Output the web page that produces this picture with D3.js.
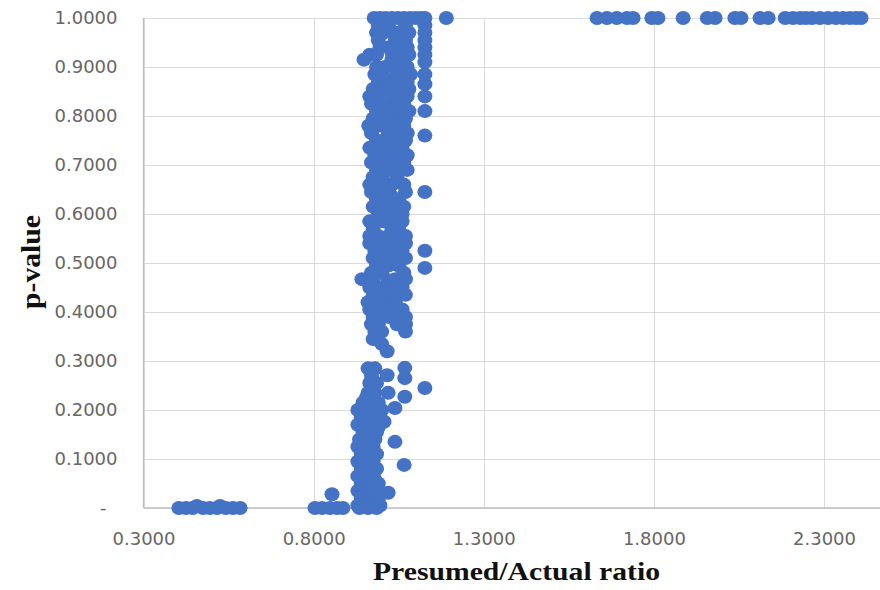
<!DOCTYPE html>
<html>
<head>
<meta charset="utf-8">
<script src="https://cdn.jsdelivr.net/npm/d3@7"></script>
<style>
  html, body { margin: 0; padding: 0; background: #fff; }
  svg { display: block; }
</style>
</head>
<body>
<svg id="chart" width="880" height="590"></svg>
<script>
// ---------- DATA ----------
const xTicks = [0.3, 0.8, 1.3, 1.8, 2.3];
const yTicks = [0, 0.1, 0.2, 0.3, 0.4, 0.5, 0.6, 0.7, 0.8, 0.9, 1.0];
const xTitle = "Presumed/Actual ratio";
const yTitle = "p-value";

// Low ratios, p ~ 0
const lowGroup = [
  [0.404, 0], [0.425, 0], [0.445, 0], [0.457, 0.004], [0.475, 0], [0.495, 0],
  [0.516, 0], [0.525, 0.004], [0.542, 0], [0.563, 0], [0.584, 0]
];
// Ratios 0.80 - 0.89, p ~ 0
const nearGroup = [
  [0.804, 0], [0.825, 0], [0.848, 0], [0.854, 0.028], [0.869, 0], [0.886, 0]
];
// High ratios, p = 1
const highRatios = [
  1.633, 1.662, 1.691, 1.721, 1.739, 1.794, 1.812, 1.886, 1.957, 1.980, 2.038, 2.056,
  2.112, 2.136, 2.186, 2.209, 2.230, 2.247, 2.265, 2.288, 2.312, 2.335, 2.356, 2.376, 2.394, 2.409
];
// Main cluster around ratio ~1
const mainCluster = [
  [0.978,1],[0.995,1],[1.012,1],[1.03,1],[1.048,1],[1.066,1],[1.084,1],[1.10,1],[1.115,1],[1.127,1],[1.19,1],
  [0.99,0.985],[1.02,0.985],[1.07,0.985],[1.127,0.985],
  [0.985,0.97],[1.005,0.97],[1.045,0.97],[1.065,0.97],[1.08,0.97],[1.127,0.97],
  [0.99,0.955],[1.04,0.955],[1.07,0.955],[1.127,0.955],
  [0.995,0.94],[1.02,0.94],[1.05,0.945],[1.075,0.94],[1.127,0.94],
  [0.965,0.925],[0.985,0.925],[1.03,0.93],[1.06,0.925],[1.08,0.925],[1.127,0.925],
  [0.948,0.915],[1.03,0.915],[1.127,0.91],
  [0.985,0.90],[1.01,0.90],[1.05,0.90],[1.075,0.90],
  [0.98,0.885],[1.0,0.885],[1.045,0.885],[1.065,0.885],[1.085,0.885],[1.127,0.885],
  [0.99,0.87],[1.02,0.875],[1.04,0.87],[1.075,0.87],[1.127,0.865],
  [0.975,0.855],[1.005,0.855],[1.015,0.855],[1.06,0.855],[1.08,0.855],
  [0.965,0.84],[0.99,0.84],[1.03,0.845],[1.045,0.84],[1.075,0.84],[1.127,0.84],
  [0.97,0.825],[1.0,0.825],[1.03,0.825],[1.065,0.825],
  [0.985,0.81],[1.02,0.81],[1.04,0.805],[1.05,0.81],[1.08,0.81],[1.127,0.81],
  [0.975,0.795],[1.005,0.795],[1.05,0.79],[1.07,0.795],
  [0.962,0.78],[0.99,0.78],[1.025,0.785],[1.04,0.78],[1.065,0.78],
  [0.97,0.765],[1.02,0.765],[1.055,0.765],[1.075,0.765],[1.127,0.76],
  [0.985,0.75],[1.005,0.75],[1.03,0.745],[1.07,0.75],
  [0.965,0.735],[1.0,0.735],[1.04,0.735],[1.06,0.735],
  [0.98,0.72],[1.015,0.72],[1.05,0.72],[1.075,0.72],
  [0.97,0.705],[1.0,0.705],[1.035,0.705],[1.065,0.705],
  [0.985,0.69],[1.02,0.69],[1.03,0.69],[1.055,0.69],[1.075,0.69],
  [0.975,0.675],[1.0,0.675],[1.045,0.675],
  [0.965,0.66],[0.99,0.66],[1.03,0.66],[1.065,0.66],
  [0.97,0.645],[1.01,0.645],[1.025,0.64],[1.07,0.645],[1.127,0.645],
  [0.985,0.63],[1.0,0.63],[1.05,0.63],
  [0.975,0.615],[1.02,0.615],[1.04,0.615],[1.065,0.615],
  [0.99,0.60],[1.01,0.605],[1.035,0.60],[1.06,0.60],
  [0.965,0.585],[1.005,0.585],[1.045,0.585],[1.06,0.585],
  [0.975,0.57],[1.03,0.57],[1.05,0.57],
  [0.965,0.555],[0.99,0.555],[1.02,0.555],[1.04,0.55],[1.07,0.555],
  [0.965,0.54],[1.0,0.54],[1.04,0.54],[1.07,0.54],
  [0.98,0.525],[1.01,0.525],[1.05,0.52],[1.06,0.525],[1.127,0.525],
  [0.975,0.51],[0.99,0.51],[1.03,0.51],[1.07,0.51],
  [0.985,0.495],[1.02,0.495],[1.04,0.5],[1.05,0.495],[1.127,0.49],
  [0.97,0.48],[1.0,0.48],[1.065,0.48],
  [0.942,0.467],[0.975,0.467],[1.02,0.465],[1.04,0.467],[1.07,0.467],
  [0.965,0.45],[0.995,0.45],[1.03,0.45],[1.045,0.45],[1.06,0.45],
  [0.975,0.435],[1.01,0.435],[1.05,0.435],[1.07,0.435],
  [0.96,0.42],[0.99,0.42],[1.025,0.415],[1.04,0.42],
  [0.965,0.405],[1.005,0.405],[1.06,0.405],
  [0.975,0.39],[0.995,0.395],[1.02,0.39],[1.04,0.395],[1.07,0.39],
  [0.97,0.375],[0.99,0.375],[1.045,0.375],[1.07,0.375],
  [0.98,0.36],[1.0,0.36],[1.07,0.36],
  [0.975,0.345],[1.0,0.335],[1.016,0.32],
  [0.96,0.285],[0.98,0.285],[1.068,0.286],
  [0.97,0.27],[1.016,0.271],[1.068,0.265],
  [0.965,0.255],[0.985,0.255],[1.127,0.245],
  [0.96,0.235],[0.98,0.235],[1.019,0.235],[1.068,0.227],
  [0.955,0.225],[0.945,0.215],[0.97,0.215],[0.99,0.215],[1.039,0.204],
  [0.93,0.2],[0.955,0.2],[0.985,0.2],[1.0,0.2],
  [0.94,0.185],[0.965,0.19],[0.97,0.185],[0.995,0.185],[1.007,0.176],
  [0.93,0.17],[0.955,0.17],[0.98,0.17],[0.99,0.165],
  [0.945,0.155],[0.97,0.155],[0.985,0.155],
  [0.935,0.14],[0.96,0.14],[0.98,0.14],[0.95,0.148],[1.039,0.135],
  [0.93,0.125],[0.95,0.125],[0.975,0.125],[0.965,0.132],
  [0.94,0.11],[0.955,0.115],[0.965,0.11],[0.985,0.11],
  [0.93,0.095],[0.955,0.095],[0.975,0.095],[0.945,0.1],[1.066,0.088],
  [0.94,0.08],[0.965,0.08],[0.985,0.08],[0.955,0.086],
  [0.93,0.065],[0.955,0.065],[0.96,0.06],[0.975,0.065],[0.945,0.07],
  [0.94,0.05],[0.95,0.045],[0.965,0.05],[0.99,0.05],[0.98,0.057],
  [0.93,0.035],[0.955,0.035],[0.96,0.03],[0.975,0.035],[0.985,0.028],[1.019,0.031],
  [0.94,0.02],[0.965,0.02],[0.99,0.02],[0.95,0.012],
  [0.93,0.005],[0.955,0.005],[0.975,0.005],[0.995,0.005],
  [0.935,0],[0.96,0],[0.985,0]
];

// ---------- LAYOUT ----------
const W = 880, H = 590;
const mLeft = 143.5, mRight = 880, mTop = 18, mBottom = 508;

const svg = d3.select("#chart");
const x = d3.scaleLinear().domain([0.3, 2.4646]).range([mLeft, mRight]);
const y = d3.scaleLinear().domain([0, 1]).range([mBottom, mTop]);

const fmt = d3.format(".4f");

// Horizontal gridlines + y labels
const yAxis = svg.append("g")
  .attr("transform", `translate(${mLeft},0)`)
  .call(d3.axisLeft(y).tickValues(yTicks).tickSize(-(mRight - mLeft)).tickSizeOuter(0)
    .tickPadding(26).tickFormat(d => d === 0 ? "-" : fmt(d)));
yAxis.select(".domain").remove();
yAxis.selectAll(".tick line").attr("stroke", "#d9d9d9").attr("stroke-width", 1)
  .attr("shape-rendering", "crispEdges");
yAxis.selectAll(".tick text")
  .attr("fill", "#666").style("font-family", "'DejaVu Sans', Verdana, sans-serif").style("font-size", "18px")
  .filter(d => d === 0).attr("dx", "-11");

// Vertical gridlines + x labels
const xAxis = svg.append("g")
  .attr("transform", `translate(0,${mBottom})`)
  .call(d3.axisBottom(x).tickValues(xTicks).tickSize(-(mBottom - mTop)).tickSizeOuter(0)
    .tickPadding(24).tickFormat(fmt));
xAxis.select(".domain").remove();
xAxis.selectAll(".tick line").attr("stroke", "#d9d9d9").attr("stroke-width", 1)
  .attr("shape-rendering", "crispEdges");
xAxis.selectAll(".tick text")
  .attr("fill", "#666").style("font-family", "'DejaVu Sans', Verdana, sans-serif").style("font-size", "18px");

// Axis lines
svg.append("line").attr("x1", mLeft).attr("x2", mLeft).attr("y1", mTop).attr("y2", mBottom)
  .attr("stroke", "#bfbfbf").attr("stroke-width", 1.3);
svg.append("line").attr("x1", mLeft).attr("x2", mRight).attr("y1", mBottom).attr("y2", mBottom)
  .attr("stroke", "#bfbfbf").attr("stroke-width", 1.3);

// Points
const allPoints = []
  .concat(lowGroup)
  .concat(nearGroup)
  .concat(mainCluster)
  .concat(highRatios.map(r => [r, 1]));

svg.append("g").selectAll("ellipse")
  .data(allPoints)
  .join("ellipse")
  .attr("cx", d => x(d[0]))
  .attr("cy", d => y(d[1]))
  .attr("rx", 7.5)
  .attr("ry", 7)
  .attr("fill", "#4472c4");

// Titles
svg.append("text")
  .attr("transform", `translate(40,262) rotate(-90)`)
  .attr("text-anchor", "middle")
  .attr("textLength", 94).attr("lengthAdjust", "spacingAndGlyphs")
  .style("font-family", "'Liberation Serif', 'Times New Roman', serif")
  .style("font-weight", "bold").style("font-size", "27px").attr("fill", "#111")
  .text(yTitle);

svg.append("text")
  .attr("x", 516.5).attr("y", 580)
  .attr("text-anchor", "middle")
  .attr("textLength", 287).attr("lengthAdjust", "spacingAndGlyphs")
  .style("font-family", "'Liberation Serif', 'Times New Roman', serif")
  .style("font-weight", "bold").style("font-size", "25px").attr("fill", "#111")
  .text(xTitle);
</script>
</body>
</html>
